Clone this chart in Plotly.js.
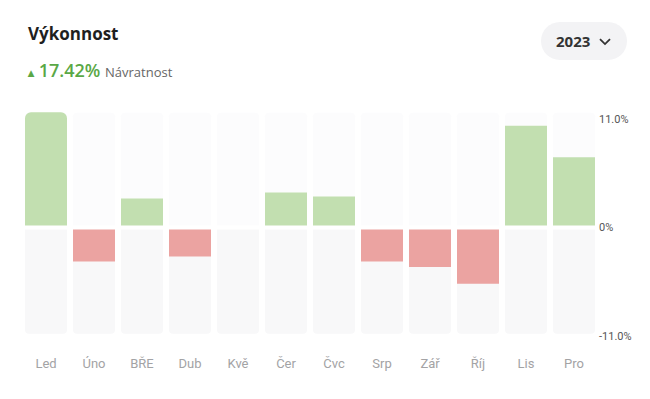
<!DOCTYPE html>
<html>
<head>
<meta charset="utf-8">
<script src="https://cdn.plot.ly/plotly-3.0.1.min.js"></script>
<style>html,body{margin:0;padding:0;background:#fff;}#chart{width:650px;height:399px;}</style>
</head>
<body>
<div id="chart"></div>
<script>
const months = ['Led','Úno','BŘE','Dub','Kvě','Čer','Čvc','Srp','Zář','Říj','Lis','Pro'];
const returns = [11.66, -3.45, 2.94, -2.94, 0, 3.55, 3.14, -3.45, -4.0, -5.7, 10.3, 7.1];
const yTickVals = [-11, 0, 11];
const yTickText = ['-11.0%', '0%', '11.0%'];
const bgTop = months.map(() => 11.6);
const bgBottom = months.map(() => -10.75);
const totalReturn = '17.42%';
const yearLabel = '2023';

const GREEN = '#c2dfb0', RED = '#eba3a1';

const traces = [
  {type:'bar', x:months, y:bgTop, marker:{color:'#fcfcfd', cornerradius:4}, hoverinfo:'skip', showlegend:false},
  {type:'bar', x:months, y:bgBottom, marker:{color:'#f8f8f9', cornerradius:4}, hoverinfo:'skip', showlegend:false},
  {type:'bar', x:months, y:returns,
   marker:{color:returns.map(v => v >= 0 ? GREEN : RED), cornerradius:6, line:{width:0}},
   showlegend:false}
];

const pill = 'M -24 -19 H 24 C 34.5 -19 43 -10.5 43 0 C 43 10.5 34.5 19 24 19 H -24 C -34.5 19 -43 10.5 -43 0 C -43 -10.5 -34.5 -19 -24 -19 Z';

const layout = {
  width:650, height:399,
  margin:{l:22, r:52, t:99, b:47},
  paper_bgcolor:'#ffffff', plot_bgcolor:'#ffffff',
  barmode:'overlay', bargap:0.125,
  font:{family:'Open Sans, Noto Sans, sans-serif'},
  xaxis:{showgrid:false, zeroline:false, showline:false, ticks:'', ticklabelstandoff:2,
         tickfont:{family:'Roboto, sans-serif', size:13, color:'#a3a3a5'}, fixedrange:true},
  yaxis:{side:'right', range:[-12.6, 13], tickvals:yTickVals, ticktext:yTickText,
         showgrid:false, zeroline:false, showline:false, ticks:'',
         tickfont:{family:'Roboto, sans-serif', size:11, color:'#555'}, fixedrange:true},
  shapes:[
    {type:'line', xref:'paper', yref:'y', x0:0, x1:1, y0:0, y1:0, line:{color:'#ffffff', width:4}, layer:'above'},
    {type:'path', xref:'paper', yref:'paper', xsizemode:'pixel', ysizemode:'pixel',
     xanchor:0.9757, yanchor:1.229, path:pill, fillcolor:'#f3f3f5', line:{width:0}, layer:'below'},
    {type:'path', xref:'paper', yref:'paper', xsizemode:'pixel', ysizemode:'pixel',
     xanchor:0.9757, yanchor:1.229, path:'M 16 2 L 21 -3 L 26 2', line:{color:'#333', width:1.8}}
  ],
  annotations:[
    {xref:'paper', yref:'paper', x:(26-22)/576, y:(352-34)/253, xanchor:'left', yanchor:'middle', showarrow:false,
     text:'<b>Výkonnost</b>', font:{family:'Open Sans, sans-serif', size:17, color:'#1f1f1f'}},
    {xref:'paper', yref:'paper', x:(25-22)/576, y:(352-70)/253, xanchor:'left', yanchor:'middle', showarrow:false,
     text:'<span style="font-size:12px">▴</span> ' + totalReturn + ' <span style="font-size:13px;color:#666;font-weight:400">Návratnost</span>',
     font:{family:'Open Sans, sans-serif', size:18, color:'#5aa846', weight:600}}
    ,
    {xref:'paper', yref:'paper', x:(573-22)/576, y:(352-41)/253, xanchor:'center', yanchor:'middle', showarrow:false,
     text:'<b>' + yearLabel + '</b>', font:{family:'Open Sans, sans-serif', size:15, color:'#333'}}
  ]
};

Plotly.newPlot('chart', traces, layout, {displayModeBar:false, staticPlot:true});
</script>
</body>
</html>
